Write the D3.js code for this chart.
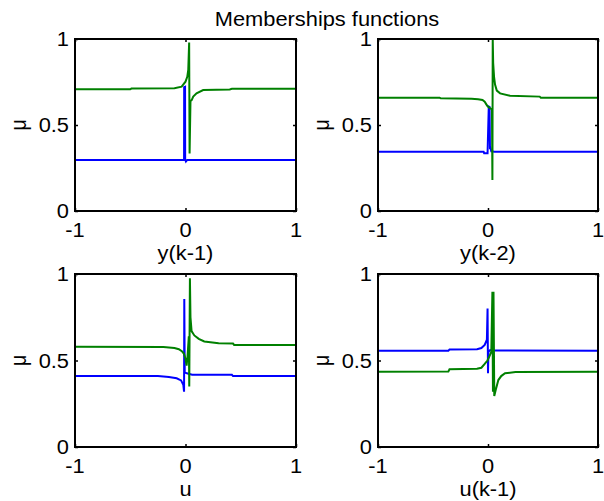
<!DOCTYPE html>
<html>
<head>
<meta charset="utf-8">
<script src="https://cdn.jsdelivr.net/npm/d3@7"></script>
<style>
	body { margin: 0; background: #fff; }
	text { font-family: "Liberation Sans", Arial, sans-serif; fill: #000; }
</style>
</head>
<body>
<svg></svg>
<script>

	// chart texts
	let title = 'Memberships functions';
	let xLabels = ['y(k-1)', 'y(k-2)', 'u', 'u(k-1)'];
	let yLabel = 'μ';
	let xTicks = [-1, 0, 1];
	let yTicks = [0, 0.5, 1];
	let yTickLabels = ['0', '0.5', '1'];

	// membership curves as [x, mu]
	let blue1 = [[-1, 0.297], [-0.5, 0.297], [-0.013, 0.297], [-0.012, 0.72], [-0.004, 0.722], [-0.003, 0.30],
		[0.004, 0.288], [0.016, 0.297], [1, 0.297]];
	let green1 = [[-1, 0.708], [-0.5, 0.708], [-0.49, 0.712], [-0.1, 0.714], [-0.035, 0.723], [0.0, 0.752],
		[0.016, 0.78], [0.025, 0.82], [0.033, 0.98], [0.037, 0.335], [0.045, 0.64], [0.056, 0.645],
		[0.07, 0.665], [0.1, 0.684], [0.16, 0.703], [0.4, 0.707], [0.42, 0.711], [1, 0.711]];

	let blue2 = [[-1, 0.345], [-0.04, 0.345], [-0.035, 0.336], [-0.004, 0.336], [0.007, 0.607],
		[0.014, 0.605], [0.018, 0.36], [0.022, 0.366], [0.03, 0.347], [0.06, 0.345], [1, 0.345]];
	let green2 = [[-1, 0.659], [-0.44, 0.659], [-0.43, 0.655], [-0.15, 0.652], [-0.09, 0.65],
		[-0.05, 0.645], [-0.03, 0.635], [-0.015, 0.62], [-0.002, 0.607], [0.036, 0.59], [0.04, 0.18],
		[0.043, 1.0], [0.047, 0.86], [0.055, 0.78], [0.064, 0.735], [0.08, 0.70], [0.11, 0.684],
		[0.2, 0.67], [0.47, 0.665], [0.48, 0.659], [1, 0.659]];

	let blue3 = [[-1, 0.41], [-0.25, 0.41], [-0.15, 0.405], [-0.08, 0.397], [-0.04, 0.385], [-0.02, 0.36],
		[-0.013, 0.32], [-0.011, 0.855], [-0.007, 0.43], [0.02, 0.425], [0.06, 0.418], [0.42, 0.417],
		[0.43, 0.41], [1, 0.41]];
	let green3 = [[-1, 0.58], [-0.2, 0.578], [-0.1, 0.572], [-0.06, 0.565], [-0.03, 0.552], [-0.015, 0.54],
		[0.0, 0.51], [0.01, 0.47], [0.018, 0.52], [0.03, 0.64], [0.034, 0.35], [0.04, 0.975], [0.045, 0.75],
		[0.055, 0.67], [0.08, 0.645], [0.12, 0.625], [0.17, 0.61], [0.3, 0.60], [0.43, 0.598],
		[0.44, 0.59], [1, 0.59]];

	let blue4 = [[-1, 0.557], [-0.36, 0.557], [-0.35, 0.563], [-0.1, 0.565], [-0.06, 0.572], [-0.03, 0.59],
		[-0.01, 0.62], [-0.004, 0.80], [0.0, 0.426], [0.004, 0.55], [0.02, 0.56], [0.05, 0.558],
		[1, 0.557]];
	let green4 = [[-1, 0.435], [-0.36, 0.437], [-0.35, 0.449], [-0.1, 0.452], [-0.06, 0.458], [-0.03, 0.48],
		[-0.005, 0.50], [0.01, 0.52], [0.03, 0.55], [0.04, 0.898], [0.045, 0.32], [0.05, 0.898],
		[0.057, 0.295], [0.07, 0.33], [0.094, 0.387], [0.12, 0.41], [0.155, 0.426], [0.25, 0.433],
		[1, 0.435]];

	let blues = [blue1, blue2, blue3, blue4];
	let greens = [green1, green2, green3, green4];

	//pre-defined variables to use
	let width = 604;
	let height = 501;
	let fontSize = 19.5;
	let stretch = 1.12;
	let boxes = [
		{ left: 75, right: 296, top: 39, bottom: 211 },
		{ left: 378, right: 598, top: 39, bottom: 211 },
		{ left: 75, right: 296, top: 274, bottom: 447 },
		{ left: 378, right: 598, top: 274, bottom: 447 }
	];

	let svg = d3.select('svg')
		.attr('width', width)
		.attr('height', height);

	// text is a bit wider than normal in the picture
	function addText(parent, str, x, y, anchor, vertical) {
		let t = parent.append('text')
			.attr('text-anchor', anchor)
			.style('font-size', fontSize + 'px')
			.text(str);
		if (vertical) {
			t.attr('transform', 'translate(' + x + ',' + y + ') rotate(-90) scale(1,' + stretch + ')');
		} else {
			t.attr('transform', 'translate(' + x + ',' + y + ') scale(' + stretch + ',1)');
		}
		return t;
	}

	boxes.forEach(function(b, i) {
		let x = d3.scaleLinear().domain([-1, 1]).range([b.left, b.right]);
		let y = d3.scaleLinear().domain([0, 1]).range([b.bottom, b.top]);

		let g = svg.append('g').attr('class', 'panel');

		let line = d3.line()
			.x(function(d) { return x(d[0]); })
			.y(function(d) { return y(d[1]); });

		g.append('path')
			.datum(blues[i])
			.attr('d', line)
			.attr('fill', 'none')
			.attr('stroke', '#0000ff')
			.attr('stroke-width', 2);

		g.append('path')
			.datum(greens[i])
			.attr('d', line)
			.attr('fill', 'none')
			.attr('stroke', '#008000')
			.attr('stroke-width', 2);

		// inward ticks on all four sides
		let tickLen = 3;
		let axisBottom = d3.axisBottom(x).tickValues(xTicks).tickSize(-tickLen).tickFormat('');
		let axisTop = d3.axisTop(x).tickValues(xTicks).tickSize(-tickLen).tickFormat('');
		let axisLeft = d3.axisLeft(y).tickValues(yTicks).tickSize(-tickLen).tickFormat('');
		let axisRight = d3.axisRight(y).tickValues(yTicks).tickSize(-tickLen).tickFormat('');

		g.append('g').attr('transform', 'translate(0,' + b.bottom + ')').call(axisBottom);
		g.append('g').attr('transform', 'translate(0,' + b.top + ')').call(axisTop);
		g.append('g').attr('transform', 'translate(' + b.left + ',0)').call(axisLeft);
		g.append('g').attr('transform', 'translate(' + b.right + ',0)').call(axisRight);
		g.selectAll('.domain').remove();
		g.selectAll('.tick line').attr('stroke', '#000').attr('stroke-width', 1.5);

		g.append('rect')
			.attr('x', b.left)
			.attr('y', b.top)
			.attr('width', b.right - b.left)
			.attr('height', b.bottom - b.top)
			.attr('fill', 'none')
			.attr('stroke', '#000')
			.attr('stroke-width', 2);

		xTicks.forEach(function(v) {
			addText(g, String(v), x(v), b.bottom + 26, 'middle');
		});
		yTicks.forEach(function(v, j) {
			addText(g, yTickLabels[j], b.left - 6, y(v) + 7, 'end');
		});

		addText(g, xLabels[i], (b.left + b.right) / 2, b.bottom + 49, 'middle');
		addText(g, yLabel, b.left - 49, (b.top + b.bottom) / 2, 'middle', true);
	});

	addText(svg, title, 327, 26, 'middle');

</script>
</body>
</html>
